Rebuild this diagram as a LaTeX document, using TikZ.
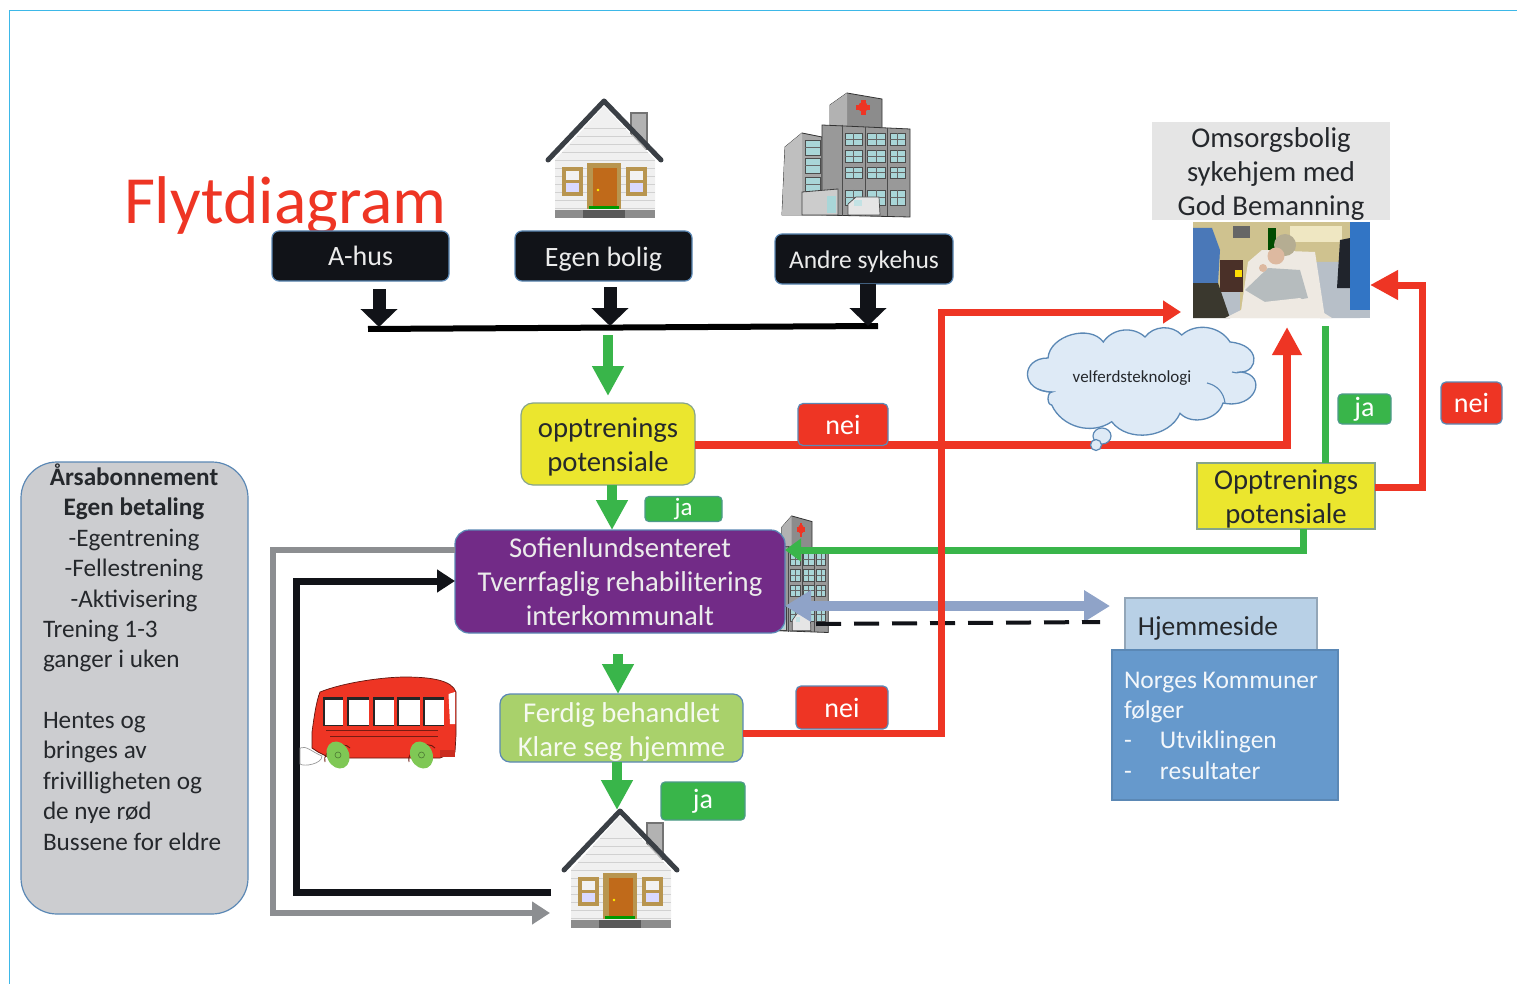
\documentclass[tikz,border=0pt]{standalone}
\usepackage{fontspec}
\setmainfont{Carlito}
\usetikzlibrary{arrows.meta,calc}
\definecolor{rd}{HTML}{EE3524}
\definecolor{gn}{HTML}{39B54A}
\definecolor{blk}{HTML}{111318}
\definecolor{edgeb}{HTML}{5B88B5}
\definecolor{ylw}{HTML}{EBE62E}
\definecolor{purp}{HTML}{722B87}
\definecolor{lgn}{HTML}{A9D16B}
\definecolor{grbox}{HTML}{CCCDD0}
\definecolor{grln}{HTML}{8C8E91}
\definecolor{bgrey}{HTML}{8FA3C8}
\definecolor{cyanl}{HTML}{3DB8E8}
\definecolor{txt}{HTML}{25282C}
\definecolor{teal}{HTML}{A9D6D8}
\definecolor{wood}{HTML}{B8954F}
\definecolor{roofc}{HTML}{3A3F45}
\definecolor{doorc}{HTML}{C06A1A}
\definecolor{cloudc}{HTML}{DEEAF6}
\definecolor{hjem}{HTML}{B8D0E6}
\definecolor{nkom}{HTML}{6699CC}
\definecolor{wheelc}{HTML}{7FC855}
\newcommand\dn[2]{\raisebox{\dimexpr-\fontdimen22\textfont2-#1pt\relax}[0pt][0pt]{\begin{tabular}[c]{@{}c@{}}#2\end{tabular}}}
\tikzset{
  x=1pt,y=-1pt,
  base/.style={inner sep=0,outer sep=0,align=center,font=\fontsize{28.7}{34}\selectfont,text=txt},
  blackbox/.style={base,fill=blk,draw=edgeb,line width=1.2,rounded corners=7,text=white!92!black},
  yellowbox/.style={base,fill=ylw,draw=edgeb!70!ylw,line width=1.2},
  rdtag/.style={base,fill=rd,draw=edgeb,line width=1.2,rounded corners=5,text=white,font=\fontsize{28}{30}\selectfont},
  gntag/.style={base,fill=gn,draw=edgeb!60!gn,line width=1.2,rounded corners=4,text=white,font=\fontsize{28}{30}\selectfont},
  redln/.style={draw=rd,line width=7,line join=miter},
  gnarrow/.style={draw=gn,line width=10,-{Triangle[width=30,length=30]}},
  blkarrow/.style={draw=blk,line width=13,-{Triangle[width=36,length=18]}},
  housepic/.pic={
    \fill[black!30] (27,12) rectangle (43,50);
    \draw[black!55,line width=2] (27,44) -- (27,13) -- (43,13) -- (43,50);
    \fill[black!6] (-49,60) -- (0,6) -- (51,60) -- (51,110) -- (-49,110) -- cycle;
    \foreach \yy in {28,36,...,108}{\draw[black!18,line width=.8] ({-49+max(0,(60-\yy)*.92)},\yy) -- ({51-max(0,(60-\yy)*.92)},\yy);}
    \fill[black!45] (-49,110) rectangle (51,118);
    \fill[black!65] (-21,110) rectangle (21,118);
    \fill[wood] (-17,63) rectangle (17,109);
    \fill[doorc] (-11,68) rectangle (13,106);
    \fill[yellow] (-6,90) circle (1.3);
    \fill[green!60!black] (-15,106) rectangle (15,109);
    \foreach \xx in {-42,22}{
      \fill[wood] (\xx,67) rectangle ++(21,29);
      \fill[black!5] (\xx+4,71) rectangle ++(13,9);
      \fill[blue!15] (\xx+4,83) rectangle ++(13,9);
    }
    \draw[roofc,line width=5,line join=round,line cap=round] (-56,60) -- (0,1) -- (57,60);
  },
  hospitalpic/.pic={
    \fill[black!45,draw=black!80,line width=.8] (48,38) -- (48,13) -- (65,1) -- (100,7) -- (100,38) -- cycle;
    \fill[black!30] (48,38) -- (48,13) -- (65,1) -- (65,38) -- cycle;
    \fill[black!35,draw=black!80,line width=.8] (3,55) -- (20,41) -- (40,45) -- (40,123) -- (0,123) -- cycle;
    \fill[black!25] (3,55) -- (20,41) -- (20,123) -- (0,123) -- cycle;
    \fill[black!40,draw=black!80,line width=.8] (40,33) -- (128,37) -- (128,125) -- (40,123) -- cycle;
    \fill[rd] (81,15) circle (5);
    \fill[rd] (74,13) rectangle (88,18);
    \fill[rd] (78.5,8) rectangle (83.5,23);
    \foreach \wy/\wh in {41/12,58/12,75/11,98/15}{
      \foreach \wx/\ww in {63/17,85/18,108/15}{
        \fill[teal,draw=black!70,line width=.5] (\wx,\wy) rectangle ++(\ww,\wh);
        \draw[black!60,line width=.5] (\wx,\wy+\wh/2) -- ++(\ww,0) (\wx+\ww/2,\wy) -- ++(0,\wh);
      }
      \draw[black!70,line width=1] (60,33) -- (60,124) (83,35) -- (83,124) (105,36) -- (105,124);
    }
    \foreach \wy in {48,66,85}{
      \fill[teal,draw=black!70,line width=.5] (23,\wy) rectangle ++(15,15);
      \draw[black!60,line width=.5] (23,\wy+7) -- ++(15,0);
    }
    \fill[black!20,draw=black!75,line width=.8] (20,100) -- (56,97) -- (56,123) -- (20,123) -- cycle;
    \fill[teal] (45,104) rectangle (54,121);
    \fill[black!10,draw=black!70,line width=.7] (66,123) -- (66,112) -- (74,105) -- (97,105) -- (98,123) -- cycle;
    \fill[teal!70] (72,108) rectangle (80,114);
  },
}
\begin{document}
\begin{tikzpicture}
\useasboundingbox (0,0) rectangle (1517,984);
\fill[white] (0,0) rectangle (1517,984);
\coordinate (bl) at (9,984);
\coordinate (bc) at (9,11);
\coordinate (br) at (1517,11);
\draw[cyanl,line width=1] (bl) -- (bc) -- (br);

% coordinates of bends
\coordinate (busL) at (368,329);
\coordinate (busR) at (878,326);
\coordinate (rA) at (941,733);
\coordinate (rB) at (941,312);
\coordinate (rC) at (1287,445);
\coordinate (rE) at (1422,487);
\coordinate (rF) at (1422,285);
\coordinate (gA) at (1303,550);
\coordinate (grA) at (273,550);
\coordinate (grB) at (273,913);
\coordinate (bkA) at (296,892);
\coordinate (bkB) at (296,581);

% pictures
\pic (house1) at (604,100) {housepic};
\pic (hosp1) at (782,92) {hospitalpic};
\pic[xscale=.58,yscale=.94] (hosp2) at (754,515) {hospitalpic};
\pic (house2) at (620,810) {housepic};

% title
\node[base,font=\fontsize{67.5}{70}\selectfont,text=rd,anchor=base west] (title) at (124,224) {Flytdiagram};

% main nodes
\node[blackbox,minimum width=177,minimum height=50,font=\fontsize{28}{34}\selectfont] (ahus) at (360.5,256) {\dn{3}{A-hus}};
\node[blackbox,minimum width=177,minimum height=50,font=\fontsize{28}{34}\selectfont] (egen) at (603.5,256) {\dn{3.5}{Egen bolig}};
\node[blackbox,minimum width=178,minimum height=50,font=\fontsize{25.5}{34}\selectfont] (andre) at (864,259) {\dn{2.5}{Andre sykehus}};
\node[yellowbox,rounded corners=12,minimum width=174,minimum height=82] (opp1) at (608,444) {\dn{4}{opptrenings\\potensiale}};
\node[yellowbox,minimum width=178,minimum height=66] (opp2) at (1286,496) {\dn{4}{Opptrenings\\potensiale}};
\node[base,fill=purp,draw=edgeb,line width=1.2,rounded corners=14,text=white!92!black,minimum width=330,minimum height=103] (sof) at (620,581.5) {\dn{3}{Sofienlundsenteret\\Tverrfaglig rehabilitering\\interkommunalt}};
\node[base,fill=lgn,draw=edgeb,line width=1.2,rounded corners=10,text=white!90!lgn,minimum width=243,minimum height=68] (fer) at (621.5,728) {\dn{5}{Ferdig behandlet\\Klare seg hjemme}};
\node[base,fill=black!10,minimum width=238,minimum height=98] (oms) at (1271,171) {\dn{4}{Omsorgsbolig\\sykehjem med\\God Bemanning}};

% left box
\node[base,fill=grbox,draw=edgeb,line width=1.2,rounded corners=36,minimum width=227,minimum height=452] (abo) at (134.5,688) {};
\node[base,font=\fontsize{25.2}{30.4}\selectfont] (abo1) at (134,537) {\dn{3}{\textbf{Årsabonnement}\\\textbf{Egen betaling}\\-Egentrening\\-Fellestrening\\-Aktivisering}};
\node[base,align=left,anchor=north west,font=\fontsize{25.2}{30.4}\selectfont] (abo2) at (43,620) {Trening 1-3\\ganger i uken\\[30.4pt]Hentes og\\bringes av\\frivilligheten og\\de nye rød\\Bussene for eldre};

% home page boxes
\node[base,fill=hjem,draw=hjem!80!black,line width=1.2,minimum width=192,minimum height=52,font=\fontsize{27.5}{34}\selectfont] (hjemme) at (1221,624) {\dn{5}{\hspace*{-26pt}Hjemmeside}};
\node[base,fill=nkom,draw=edgeb,line width=1.2,minimum width=226,minimum height=150] (nkomm) at (1225,725) {};
\node[base,align=left,anchor=north west,text=white!92!nkom,font=\fontsize{25.5}{30.3}\selectfont] (nkommt) at (1124,672) {Norges Kommuner\\følger\\\makebox[36pt][l]{-}Utviklingen\\\makebox[36pt][l]{-}resultater};

% photo
\node[base,fill=black!10,minimum width=177,minimum height=96] (photo) at (1281.5,270) {};
\begin{scope}
\clip (1193,222) rectangle (1370,318);
\definecolor{p1}{HTML}{CFC28F}\definecolor{p2}{HTML}{EFE7C2}\definecolor{p3}{HTML}{4A78B8}
\definecolor{p4}{HTML}{3275C5}\definecolor{p5}{HTML}{B7BFC8}\definecolor{p6}{HTML}{4A3028}
\definecolor{p7}{HTML}{3A382E}\definecolor{p8}{HTML}{EEE9E2}\definecolor{p9}{HTML}{B6BCBE}
\definecolor{p10}{HTML}{DDB9A0}\definecolor{p11}{HTML}{B5AD92}\definecolor{p12}{HTML}{20242C}
\fill[p1] (1193,222) rectangle (1370,318);
\fill[p2] (1290,226) rectangle (1342,242);
\fill[p5] (1220,290) rectangle (1240,318);
\fill[black!60] (1233,226) rectangle (1250,238);
\fill[black!70!green] (1268,228) rectangle (1276,250);
\fill[p5] (1300,262) -- (1350,262) -- (1360,318) -- (1320,318) -- cycle;
\fill[p6] (1220,260) rectangle (1243,292);
\fill[yellow!80!orange] (1235,270) rectangle (1242,277);
\fill[p3] (1193,228) -- (1212,228) -- (1220,250) -- (1218,283) -- (1193,283) -- cycle;
\fill[p7] (1193,283) -- (1218,283) -- (1230,318) -- (1193,318) -- cycle;
\fill[p8] (1248,262) -- (1262,250) -- (1315,252) -- (1325,318) -- (1240,318) -- cycle;
\fill[p9] (1245,290) -- (1268,268) -- (1300,270) -- (1308,298) -- (1270,305) -- cycle;
\fill[p8] (1225,318) -- (1255,303) -- (1300,298) -- (1332,318) -- cycle;
\fill[p11] (1285,245) circle (11);
\fill[p10] (1276,256) circle (8.5);
\fill[p10] (1263,268) circle (4);
\fill[p12] (1340,240) -- (1350,238) -- (1350,288) -- (1337,288) -- cycle;
\fill[p4] (1350,222) rectangle (1370,310);
\fill[p5] (1350,310) rectangle (1370,318);
\end{scope}

% connectors under the tags
\draw[black,line width=6] (busL) -- (busR);
\draw[blkarrow] (379,289) -- (379,327);
\draw[blkarrow] (610,287) -- (610,326);
\draw[blkarrow,line width=16] (andre.south -| 868,0) -- (868,326);
\draw[gnarrow] (608,335) -- (608,396);
\draw[gnarrow] (opp1.south -| 612,0) -- (sof.north -| 612,0);
\draw[gnarrow] (618,654) -- (fer.north -| 618,0);
\draw[gnarrow] (fer.south -| 617,0) -- (617,810);
\draw[gn,line width=7] (1325,326) -- (opp2.north -| 1325,0);
\draw[gn,line width=7,-{Triangle[width=22,length=16]}] (opp2.south -| gA) -- (gA) -- (sof.east |- gA);
\draw[grln,line width=6,-{Triangle[width=22,length=18]}] (sof.west |- grA) -- (grA) -- (grB) -- (550,913);
\draw[blk,line width=7,-{Triangle[width=22,length=18]}] (551,892) -- (bkA) -- (bkB) -- (sof.west |- bkB);
\draw[bgrey,line width=10,{Triangle[width=30,length=26]}-{Triangle[width=30,length=26]}] (sof.east |- 0,606) -- (1110,606);
\draw[blk,line width=4,dash pattern=on 25 off 13] (816,624) -- (1100,622);
\draw[redln,-{Triangle[width=28,length=28]},line width=8] (opp1.east |- rC) -- (rC) -- (1287,327);
\draw[redln,-{Triangle[width=22,length=18]}] (fer.east |- rA) -- (rA) -- (rB) -- (1181,312);
\draw[redln,-{Triangle[width=28,length=28]}] (opp2.east |- rE) -- (rE) -- (rF) -- (photo.east |- rF);

% cloud
\coordinate (c1) at (1048,358);
\coordinate (c2) at (1103.3,342);
\coordinate (c3) at (1145,337);
\coordinate (c4) at (1181.7,335);
\coordinate (c5) at (1230,342);
\coordinate (c6) at (1241,372);
\coordinate (c7) at (1223,403);
\coordinate (c8) at (1180,413.3);
\coordinate (c9) at (1111.7,421.7);
\coordinate (c10) at (1051.7,405);
\coordinate (c11) at (1052,392);
\fill[cloudc,draw=edgeb,line width=1.3]
  (c1) to[bend left=70] (c2) to[bend left=50] (c3) to[bend left=50] (c4) to[bend left=50] (c5)
  .. controls (1262,345) and (1258,372) .. (c6)
  .. controls (1268,375) and (1256,410) .. (c7) to[bend left=60] (c8) to[bend left=60] (c9)
  to[bend left=50] (c10) to[bend left=90] (c11)
  .. controls (1020,392) and (1020,358) .. (c1) -- cycle;
\draw[edgeb,line width=1.1] (1207,383) to[bend left=35] (1225,403) (1232,372) to[bend right=20] (1241,372) (1052,392) to[bend left=10] (1038,389);
\node[base,font=\fontsize{17}{18}\selectfont] (cloudtxt) at (1132,378) {velferdsteknologi};
\fill[cloudc,draw=edgeb,line width=1.2] (1102,436) ellipse (9 and 8);
\fill[cloudc,draw=edgeb,line width=1.2] (1096,445) ellipse (5.5 and 5.5);

% tags
\node[rdtag,minimum width=90,minimum height=42] (nei1) at (843,424.5) {nei};
\node[rdtag,minimum width=92,minimum height=43] (nei2) at (842,707.5) {nei};
\node[rdtag,minimum width=61,minimum height=42] (nei3) at (1471.5,403) {nei};
\node[gntag,minimum width=77,minimum height=25,font=\fontsize{25}{26}\selectfont] (ja1) at (683.5,509) {ja};
\node[gntag,minimum width=84,minimum height=38] (ja2) at (703,801) {ja};
\node[gntag,minimum width=53,minimum height=30] (ja3) at (1364.5,409) {ja};

% bus
\fill[white,draw=black!40,line width=.7] (300,748) .. controls (306,745) and (312,752) .. (322,756) .. controls (322,764) and (304,767) .. (300,764) -- cycle;
\draw[fill=rd,draw=black!60!rd,line width=.7] (312,748) -- (312,732) .. controls (314,718) and (316,702) .. (320,692)
  .. controls (345,682) and (385,677) .. (405,677) .. controls (430,677) and (452,680) .. (456,692)
  -- (456,735) -- (455,752) -- (440,758) -- (330,758) -- (318,752) -- cycle;
\foreach \wa/\wb in {323/343,347/369,373/394,397/420,423/444}{
  \fill[black!85] (\wa,697) rectangle (\wb,725.5);
  \fill[white] (\wa+2,699.5) rectangle (\wb,725);
}
\fill[white] (448.5,694) -- (455,692) -- (455,724) -- (450,724) -- cycle;
\draw[black!50!rd,line width=1] (326,730) -- (438,730) (330,736) -- (438,736);
\draw[black!55!rd,line width=.9] (325,762) to[bend left=80] (350,748) (409,762) to[bend left=80] (435,748);
\fill[rd!85!black] (440,750) rectangle (455,757);
\fill[wheelc,rotate around={25:(338,755)}] (338,755) ellipse (11 and 14);
\fill[wheelc,rotate around={25:(421.5,755)}] (421.5,755) ellipse (11 and 14);
\draw[black!40!wheelc,line width=.6] (338,755) circle (3) (421.5,755) circle (3);
\end{tikzpicture}
\end{document}
